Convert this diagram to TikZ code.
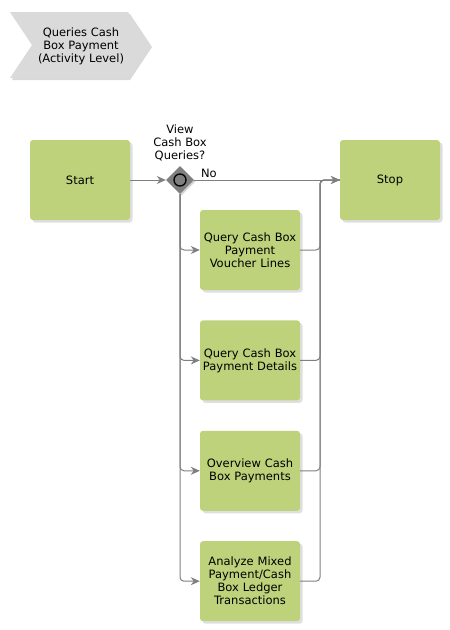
\documentclass[tikz,border=0pt]{standalone}
\usepackage{fontspec}
\setmainfont{DejaVu Sans}
\usetikzlibrary{arrows.meta,shapes.geometric,shadows,positioning}
\definecolor{taskgreen}{HTML}{BDD27B}
\definecolor{linegray}{HTML}{7F7F7F}
\definecolor{chevgray}{HTML}{DADADA}
\tikzset{
	task/.style={
		rectangle,
		rounded corners=3pt,
		fill=taskgreen,
		minimum width=100pt,
		minimum height=80pt,
		text width=98pt,
		inner xsep=1pt,
		align=center,
		drop shadow={shadow xshift=2.5pt,shadow yshift=-2.5pt,fill=black!25}
	},
	gate/.style={
		diamond,
		fill=linegray,
		minimum size=28pt,
		inner sep=0pt,
		drop shadow={shadow xshift=1.5pt,shadow yshift=-1.5pt,fill=black!35}
	},
	flow/.style={
		draw=linegray,
		line width=1pt,
		rounded corners=4pt,
		-{Stealth[length=9pt,width=8pt]}
	},
	link/.style={
		draw=linegray,
		line width=1pt,
		rounded corners=4pt
	}
}

\begin{document}
\begin{tikzpicture}[x=1pt,y=-1pt,node distance=30pt,font=\fontsize{11.5}{13}\selectfont]
		\useasboundingbox (0,0) rectangle (450,630);
		% title chevron
		\fill[black!15] (12,14) -- (130,14) -- (152,47) -- (130,80) -- (12,80) -- (34,47) -- cycle;
		\fill[chevgray] (10,12) -- (128,12) -- (150,45) -- (128,78) -- (10,78) -- (32,45) -- cycle;
		\node[align=center] (title) at (81,46) {Queries Cash\\Box Payment\\(Activity Level)};
		% events and gateway
		\node [task] (start) at (80,180) {Start};
		\node [gate,label={[align=center,yshift=1pt]above:View\\Cash Box\\Queries?}] (gw) at (180,180) {};
		\node [circle,draw=black,line width=1.3pt,fill=linegray,minimum size=12pt,inner sep=0pt] (gwc) at (gw) {};
		\node [task] (stop) at (390,180) {Stop};
		% activities
		\node [task] (q1) at (250,250) {Query Cash Box\\Payment\\Voucher Lines};
		\node [task] (q2) [below= of q1] {Query Cash Box\\Payment Details};
		\node [task] (q3) [below= of q2] {Overview Cash\\Box Payments};
		\node [task] (q4) [below= of q3] {Analyze Mixed\\Payment/Cash\\Box Ledger\\Transactions};
		\coordinate (mg) at (320,180);
		% connectors
		\draw[flow] (start) -- (gw);
		\draw[flow] (gw) -- node[anchor=south west,pos=0.03,inner sep=2pt] {No} (stop);
		\foreach \q in {q1,q2,q3,q4}{
			\draw[flow] (gw.south) |- (\q.west);
			\draw[link] (\q.east) -| (mg) -- (stop.west);
		}
		\draw[flow] (mg) -- (stop.west);
		\end{tikzpicture}
\end{document}
